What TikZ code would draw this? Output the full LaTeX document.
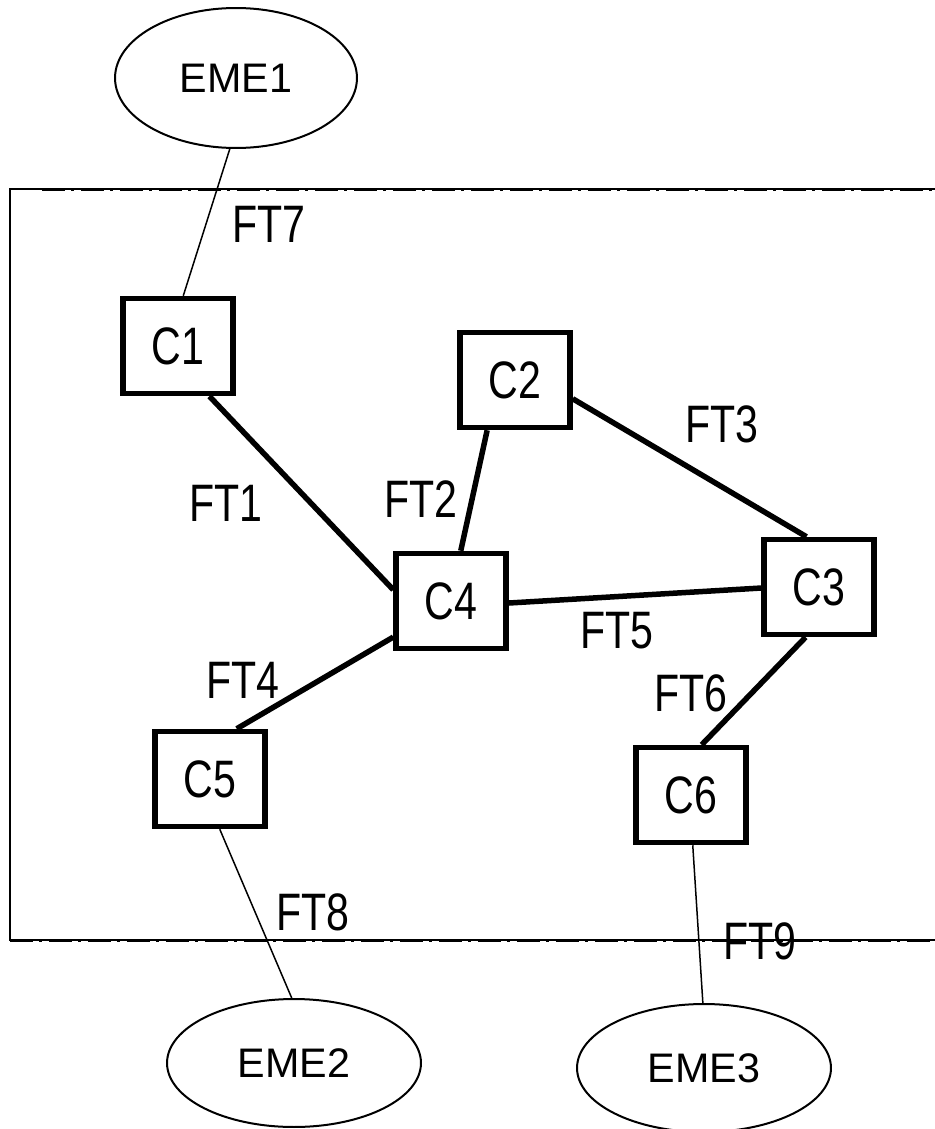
\documentclass[tikz,border=0pt]{standalone}
\usepackage{fontspec}
\setmainfont{Liberation Sans}
\newfontfamily\narrowfont[FakeStretch=0.78]{Liberation Sans}
\usetikzlibrary{shapes.geometric}

\begin{document}
\begin{tikzpicture}[x=0.02cm, y=-0.02cm,
	box/.style={draw, line width=0.11cm, minimum width=2.2cm, minimum height=1.9cm, inner sep=0pt, font=\narrowfont\fontsize{30}{32}\selectfont},
	eme/.style={draw, ellipse, line width=0.04cm, minimum width=5.08cm, minimum height=2.56cm, inner sep=0pt, font=\fontsize{23.5}{26}\selectfont},
	ft/.style={inner sep=0pt, font=\narrowfont\fontsize{30}{32}\selectfont},
	link/.style={line width=0.11cm},
	ext/.style={line width=0.03cm},
	border/.style={line width=0.06cm, dash pattern=on 0.46cm off 0.13cm on 0.06cm off 0.13cm}]
	\useasboundingbox (0,0) rectangle (935,1129);
	\draw[ext] (935,189) -- (10,189) -- (10,940) -- (935,940);
	\draw[border] (42,189) -- (935,189);
	\draw[border] (10,940) -- (935,940);
	\node[eme, minimum width=4.84cm, minimum height=2.8cm] (EME1) at (236,78) {EME1};
	\node[eme] (EME2) at (294,1063) {EME2};
	\node[eme] (EME3) at (704,1068) {EME3};
	\node[box] (C1) at (178,346) {C1};
	\node[box] (C2) at (515,380) {C2};
	\node[box] (C3) at (819,587) {C3};
	\node[box] (C4) at (451,601) {C4};
	\node[box] (C5) at (210,779) {C5};
	\node[box] (C6) at (691,795) {C6};
	\draw[link] (C1.-58) -- (C4.169);
	\draw[link] (C2.-119) -- (C4.79);
	\draw[link] (C2.-18) -- (C3.104);
	\draw[link] (C4.-2) -- (C3.-179);
	\draw[link] (C4.-148) -- (C5.62);
	\draw[link] (C3.-105) -- (C6.78);
	\draw[ext] (EME1.-95) -- (C1.84);
	\draw[ext] (C5.-79) -- (EME2.92);
	\draw[ext] (C6.-88) -- (EME3.91);
	\node[ft] (FT7) at (269,224) {FT7};
	\node[ft] (FT1) at (226,503) {FT1};
	\node[ft] (FT2) at (421,499) {FT2};
	\node[ft] (FT3) at (722,424) {FT3};
	\node[ft] (FT5) at (617,631) {FT5};
	\node[ft] (FT4) at (243,680) {FT4};
	\node[ft] (FT6) at (691,693) {FT6};
	\node[ft] (FT8) at (313,912) {FT8};
	\node[ft] (FT9) at (760,941) {FT9};
\end{tikzpicture}
\end{document}
